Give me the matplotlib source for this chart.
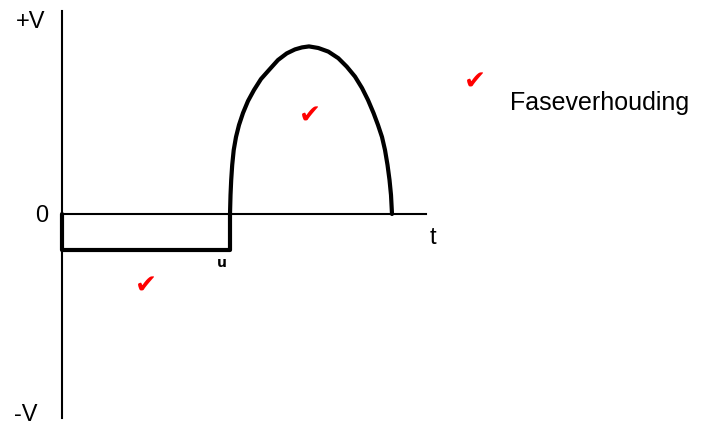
import matplotlib.pyplot as plt

plt.rcParams["font.family"] = ["Liberation Sans", "DejaVu Sans"]

# Waveform: negative square part, then the positive half-wave
t_square = [0.0, 0.0, 4.20]
v_square = [0.0, -0.18, -0.18]
t_arc = [4.200, 4.213, 4.230, 4.255, 4.293, 4.350, 4.425, 4.525, 4.650,
         4.800, 4.975, 5.175, 5.400, 5.618, 5.825, 6.000, 6.175, 6.408,
         6.658, 6.908, 7.118, 7.325, 7.500, 7.650, 7.788, 7.900, 8.000,
         8.075, 8.138, 8.188, 8.225, 8.250]
v_arc = [0.000, 0.095, 0.170, 0.245, 0.320, 0.385, 0.445, 0.505, 0.565,
         0.620, 0.675, 0.720, 0.770, 0.803, 0.823, 0.833, 0.838, 0.830,
         0.812, 0.779, 0.737, 0.687, 0.630, 0.570, 0.505, 0.445, 0.385,
         0.320, 0.245, 0.170, 0.095, 0.000]

# Hand-drawn axes extents
t_axis_end = 9.1
v_axis_top = 1.015
v_axis_bottom = -1.02

fig = plt.figure(figsize=(7.07, 4.25), dpi=100)
ax = fig.add_axes([0, 0, 1, 1])
ax.set_xlim(-1.55, 16.125)
ax.set_ylim(-1.055, 1.07)
ax.axis("off")

# axes
ax.plot([0, 0], [v_axis_bottom, v_axis_top], color="black", lw=1.5)
ax.plot([0, t_axis_end], [0, 0], color="black", lw=1.5)

# signal
ax.plot(t_square + t_arc, v_square + v_arc, color="black", lw=3.0,
        solid_joinstyle="round", solid_capstyle="round")

# labels
ax.text(-0.775, 0.9625, "+V", ha="center", va="center", fontsize=17)
ax.text(-0.51, -0.0125, "0", ha="center", va="center", fontsize=17)
ax.text(-0.9, -1.005, "-V", ha="center", va="center", fontsize=17)
ax.text(9.28, -0.12, "t", ha="center", va="center", fontsize=17)
ax.text(11.2, 0.555, "Faseverhouding", ha="left", va="center", fontsize=18)
ax.text(4.0, -0.245, "u", ha="center", va="center", fontsize=10,
        fontweight="bold", family="DejaVu Sans")

# red check marks
for tc, vc in [(2.09, -0.3625), (6.2, 0.485), (10.325, 0.655)]:
    ax.text(tc, vc, "\u2714", ha="center", va="center", fontsize=19,
            color="red", family="DejaVu Sans")

fig.savefig("out.png", dpi=100)
